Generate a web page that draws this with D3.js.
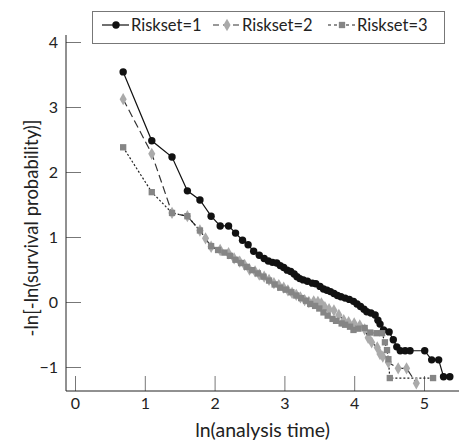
<!DOCTYPE html>
<html>
<head>
<meta charset="utf-8">
<script src="https://cdn.jsdelivr.net/npm/d3@7"></script>
<style>
  body { margin: 0; background: #fff; }
  svg { font-family: Lato, "DejaVu Sans", sans-serif; }
</style>
</head>
<body>
<div id="chart"></div>
<script>
// risk set 1: [ln(t), -ln(-ln S)]
const riskset1 = [
  [0.69, 3.54], [1.10, 2.48], [1.39, 2.23], [1.61, 1.71], [1.79, 1.57], [1.95, 1.32],
  [2.08, 1.17], [2.20, 1.17], [2.30, 1.06], [2.40, 0.95], [2.48, 0.88], [2.56, 0.78],
  [2.64, 0.72], [2.71, 0.67], [2.77, 0.63], [2.83, 0.61], [2.89, 0.60], [2.94, 0.56],
  [2.99, 0.53], [3.04, 0.49], [3.09, 0.47], [3.14, 0.43], [3.18, 0.39], [3.22, 0.36],
  [3.27, 0.34], [3.33, 0.32], [3.40, 0.29], [3.45, 0.28], [3.51, 0.24], [3.56, 0.20],
  [3.61, 0.18], [3.66, 0.16], [3.71, 0.13], [3.76, 0.10], [3.81, 0.08], [3.87, 0.06],
  [3.93, 0.04], [3.99, 0.01], [4.04, -0.03], [4.09, -0.07], [4.14, -0.11], [4.18, -0.15],
  [4.24, -0.17], [4.30, -0.20], [4.34, -0.28], [4.37, -0.34], [4.42, -0.43], [4.50, -0.46],
  [4.56, -0.58], [4.61, -0.69], [4.66, -0.75], [4.73, -0.75], [4.80, -0.75], [5.01, -0.75],
  [5.11, -0.89], [5.21, -0.89], [5.28, -1.15], [5.37, -1.15]
];
const riskset2 = [
  [0.69, 3.12], [1.10, 2.28], [1.39, 1.37], [1.61, 1.32], [1.79, 1.10], [1.87, 0.98],
  [1.95, 0.85], [2.08, 0.80], [2.20, 0.75], [2.28, 0.67], [2.36, 0.62], [2.43, 0.57],
  [2.50, 0.50], [2.58, 0.47], [2.64, 0.42], [2.71, 0.39], [2.78, 0.34], [2.85, 0.29],
  [2.92, 0.26], [2.99, 0.22], [3.05, 0.18], [3.11, 0.14], [3.17, 0.11], [3.23, 0.07],
  [3.29, 0.03], [3.35, 0.00], [3.42, 0.01], [3.48, 0.00], [3.53, -0.02], [3.58, -0.08],
  [3.64, -0.11], [3.71, -0.13], [3.78, -0.20], [3.85, -0.28], [3.92, -0.31], [4.00, -0.33],
  [4.08, -0.36], [4.15, -0.42], [4.20, -0.55], [4.25, -0.62], [4.33, -0.70], [4.37, -0.80],
  [4.41, -0.84], [4.49, -0.93], [4.63, -1.02], [4.75, -1.02], [4.89, -1.25]
];
const riskset3 = [
  [0.69, 2.38], [1.10, 1.69], [1.39, 1.37], [1.61, 1.32], [1.79, 1.10], [1.95, 0.86],
  [2.05, 0.80], [2.14, 0.76], [2.22, 0.71], [2.30, 0.65], [2.38, 0.60], [2.46, 0.54],
  [2.54, 0.49], [2.62, 0.44], [2.70, 0.39], [2.78, 0.33], [2.86, 0.27], [2.94, 0.22],
  [3.02, 0.19], [3.10, 0.15], [3.17, 0.10], [3.24, 0.06], [3.31, 0.02], [3.37, -0.03],
  [3.44, -0.06], [3.50, -0.10], [3.56, -0.16], [3.62, -0.21], [3.69, -0.26], [3.74, -0.29],
  [3.82, -0.33], [3.87, -0.35], [3.94, -0.38], [3.99, -0.43], [4.06, -0.41], [4.15, -0.40],
  [4.23, -0.47], [4.32, -0.48], [4.40, -0.48], [4.44, -0.62], [4.47, -0.74], [4.49, -0.88],
  [4.51, -1.17], [5.13, -1.17]
];
const seriesNames = ["Riskset=1", "Riskset=2", "Riskset=3"];
const xTicks = [0, 1, 2, 3, 4, 5];
const yTicks = [-1, 0, 1, 2, 3, 4];

const width = 459, height = 444;
const plot = { left: 66, right: 459, top: 35, bottom: 391 };

const svg = d3.select("#chart").append("svg")
  .attr("width", width).attr("height", height);

const x = d3.scaleLinear().domain([0, 5]).range([75, 424]);
const y = d3.scaleLinear().domain([-1, 4]).range([367, 42]);

const series = [
  { name: seriesNames[0], data: riskset1, dash: null, stroke: "#111", sym: "circle", fill: "#111" },
  { name: seriesNames[1], data: riskset2, dash: "8,4", stroke: "#333", sym: "diamond", fill: "#aaa" },
  { name: seriesNames[2], data: riskset3, dash: "2,2", stroke: "#222", sym: "square", fill: "#858585" }
];

function marker(g, s, cx, cy) {
  if (s.sym === "circle") {
    g.append("circle").attr("cx", cx).attr("cy", cy).attr("r", 3.7).attr("fill", s.fill);
  } else {
    let type = s.sym === "diamond" ? d3.symbolDiamond : d3.symbolSquare;
    let size = s.sym === "diamond" ? 44 : 40;
    g.append("path")
      .attr("d", d3.symbol().type(type).size(size)())
      .attr("transform", `translate(${cx},${cy})`)
      .attr("fill", s.fill);
  }
}

// axes
const xAxis = svg.append("g")
  .attr("transform", `translate(0,${plot.bottom})`)
  .call(d3.axisBottom(x).tickValues(xTicks).tickSize(-15).tickPadding(7).tickFormat(d3.format("d")));
const yAxis = svg.append("g")
  .attr("transform", `translate(${plot.left},0)`)
  .call(d3.axisLeft(y).tickValues(yTicks).tickSize(-15).tickPadding(8).tickFormat(d3.format("d")));

[xAxis, yAxis].forEach(a => {
  a.select(".domain").remove();
  a.selectAll(".tick line").attr("stroke", "#777");
  a.selectAll(".tick text").attr("font-size", 16).attr("fill", "#222").attr("font-family", "Lato");
});

svg.append("line").attr("x1", plot.left).attr("x2", plot.right)
  .attr("y1", plot.bottom).attr("y2", plot.bottom).attr("stroke", "#222");
svg.append("line").attr("x1", plot.left).attr("x2", plot.left)
  .attr("y1", plot.top).attr("y2", plot.bottom).attr("stroke", "#222");

// lines
let line = d3.line().x(d => x(d[0])).y(d => y(d[1]));
for (let s of series) {
  svg.append("path")
    .datum(s.data)
    .attr("fill", "none")
    .attr("stroke", s.stroke)
    .attr("stroke-width", 1.2)
    .attr("stroke-dasharray", s.dash)
    .attr("d", line);
}
// markers
for (let s of series) {
  let g = svg.append("g");
  for (let d of s.data) marker(g, s, x(d[0]), y(d[1]));
}

// titles
svg.append("text")
  .attr("x", (plot.left + plot.right) / 2)
  .attr("y", 437)
  .attr("text-anchor", "middle")
  .attr("font-size", 19.5)
  .attr("fill", "#222")
  .text("ln(analysis time)");

svg.append("text")
  .attr("transform", `translate(38,${228}) rotate(-90)`)
  .attr("text-anchor", "middle")
  .attr("font-size", 18.5)
  .attr("fill", "#222")
  .text("-ln[-ln(survival probability)]");

// legend
const legend = svg.append("g");
legend.append("rect")
  .attr("x", 92.5).attr("y", 11.5).attr("width", 352).attr("height", 32)
  .attr("fill", "#fff").attr("stroke", "#777");

const legX = [102, 213, 328];
series.forEach((s, i) => {
  let lx = legX[i];
  legend.append("line")
    .attr("x1", lx).attr("x2", lx + 27).attr("y1", 25).attr("y2", 25)
    .attr("stroke", s.stroke).attr("stroke-width", 1.2)
    .attr("stroke-dasharray", i === 1 ? "6,4" : i === 2 ? "3,3" : null);
  marker(legend, s, lx + 14, 25);
  legend.append("text")
    .attr("x", lx + 29).attr("y", 31)
    .attr("font-size", 16.5)
    .attr("fill", "#222")
    .text(s.name);
});
</script>
</body>
</html>
